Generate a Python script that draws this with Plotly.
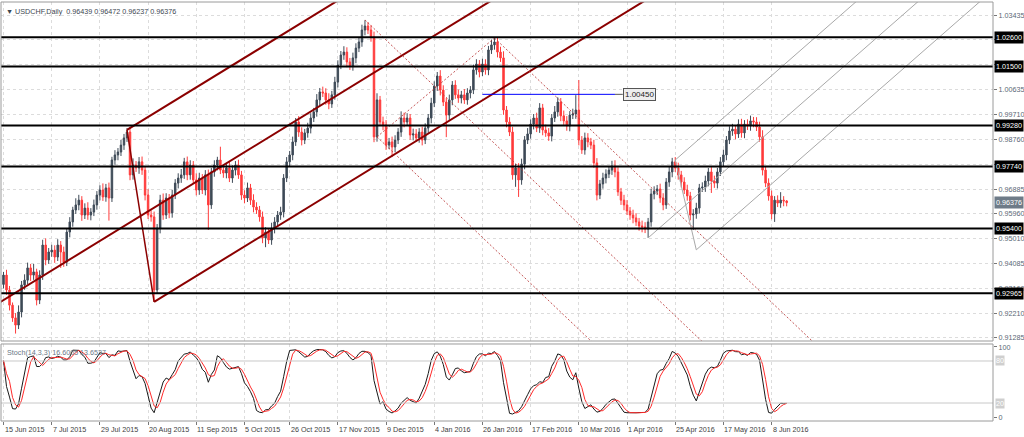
import numpy as np
import pandas as pd
import plotly.graph_objects as go

# ---------------- data ----------------
closes = [
    0.9365, 0.9309, 0.9252, 0.9204, 0.9177, 0.9226, 0.9328, 0.9346, 0.9392, 0.9365, 0.9377, 0.9271, 0.9365, 0.9478, 0.9422, 0.9452, 0.9459, 0.9433, 0.9478, 0.9452,
    0.9414, 0.9527, 0.9565, 0.9610, 0.9629, 0.9647, 0.9591, 0.9617, 0.9591, 0.9602, 0.9629, 0.9666, 0.9685, 0.9659, 0.9693, 0.9655, 0.9798, 0.9817, 0.9828, 0.9854,
    0.9881, 0.9903, 0.9742, 0.9779, 0.9768, 0.9791, 0.9760, 0.9666, 0.9591, 0.9584, 0.9309, 0.9542, 0.9647, 0.9591, 0.9655, 0.9599, 0.9666, 0.9711, 0.9730, 0.9742,
    0.9791, 0.9742, 0.9779, 0.9723, 0.9685, 0.9730, 0.9685, 0.9742, 0.9629, 0.9753, 0.9779, 0.9798, 0.9760, 0.9749, 0.9768, 0.9730, 0.9760, 0.9779, 0.9742, 0.9666,
    0.9655, 0.9693, 0.9647, 0.9621, 0.9610, 0.9584, 0.9505, 0.9527, 0.9497, 0.9542, 0.9565, 0.9591, 0.9602, 0.9730, 0.9791, 0.9817, 0.9866, 0.9941, 0.9903, 0.9873,
    0.9900, 0.9918, 0.9956, 0.9979, 1.0024, 1.0054, 1.0050, 1.0024, 1.0009, 1.0043, 1.0091, 1.0155, 1.0193, 1.0204, 1.0167, 1.0152, 1.0182, 1.0219, 1.0242, 1.0287,
    1.0302, 1.0287, 1.0261, 0.9885, 1.0024, 0.9941, 0.9930, 0.9854, 0.9866, 0.9847, 0.9873, 0.9903, 0.9956, 0.9941, 0.9956, 0.9892, 0.9896, 0.9881, 0.9903, 0.9873,
    0.9918, 0.9956, 1.0012, 1.0076, 1.0114, 1.0061, 1.0016, 0.9967, 1.0024, 1.0080, 1.0043, 1.0031, 1.0043, 1.0024, 1.0050, 1.0061, 1.0137, 1.0159, 1.0129, 1.0159,
    1.0137, 1.0212, 1.0231, 1.0242, 1.0204, 1.0182, 0.9986, 0.9941, 0.9903, 0.9742, 0.9768, 0.9723, 0.9783, 0.9873, 0.9896, 0.9933, 0.9956, 0.9918, 0.9994, 0.9911,
    0.9900, 0.9888, 0.9956, 0.9979, 1.0016, 0.9964, 0.9945, 0.9926, 0.9967, 0.9971, 0.9986, 0.9873, 0.9836, 0.9881, 0.9866, 0.9854, 0.9787, 0.9666, 0.9708, 0.9730,
    0.9745, 0.9760, 0.9775, 0.9753, 0.9678, 0.9647, 0.9629, 0.9606, 0.9591, 0.9580, 0.9565, 0.9550, 0.9546, 0.9538, 0.9565, 0.9670, 0.9681, 0.9689, 0.9655, 0.9629,
    0.9715, 0.9753, 0.9791, 0.9768, 0.9742, 0.9715, 0.9685, 0.9663, 0.9591, 0.9595, 0.9617, 0.9693, 0.9696, 0.9719, 0.9753, 0.9719, 0.9711, 0.9753, 0.9791, 0.9817,
    0.9873, 0.9907, 0.9914, 0.9896, 0.9933, 0.9900, 0.9933, 0.9926, 0.9945, 0.9941, 0.9922, 0.9885, 0.9760, 0.9711, 0.9663, 0.9595, 0.9647, 0.9636, 0.9647, 0.9644,
    0.96376,
]
up_pips = [
    12, 20, 15, 10, 18, 25, 15, 22, 20, 15, 30, 12, 18, 20, 25, 15, 20, 18, 22, 15,
    20, 15, 18, 12, 25, 20, 15, 18, 22, 15, 20, 15, 18, 25, 15, 20, 12, 18, 15, 20,
    15, 15, 20, 25, 15, 18, 20, 15, 22, 18, 20, 15, 20, 25, 18, 15, 20, 15, 18, 22,
    15, 20, 18, 15, 25, 20, 15, 18, 20, 15, 18, 12, 50, 20, 15, 25, 18, 15, 20, 15,
    18, 20, 15, 22, 18, 15, 20, 18, 15, 20, 18, 15, 20, 15, 18, 15, 20, 15, 22, 18,
    15, 20, 18, 15, 22, 15, 20, 18, 25, 15, 20, 18, 15, 22, 18, 15, 20, 18, 15, 20,
    22, 15, 18, 20, 25, 15, 20, 18, 15, 20, 18, 15, 25, 20, 18, 15, 20, 18, 15, 20,
    18, 15, 20, 18, 15, 22, 18, 15, 20, 15, 18, 20, 15, 22, 18, 15, 20, 18, 15, 20,
    18, 15, 20, 15, 18, 20, 25, 15, 18, 20, 15, 18, 20, 15, 22, 18, 15, 20, 18, 15,
    20, 18, 15, 22, 18, 15, 20, 18, 15, 20, 56, 113, 15, 20, 18, 15, 20, 18, 15, 20,
    18, 15, 20, 22, 18, 15, 20, 18, 15, 20, 18, 15, 20, 18, 15, 20, 18, 15, 20, 18,
    15, 20, 15, 18, 20, 15, 18, 20, 15, 18, 20, 15, 18, 20, 15, 18, 20, 15, 18, 20,
    15, 18, 20, 15, 18, 20, 15, 18, 20, 15, 18, 20, 25, 15, 18, 20, 15, 18, 30, 15,
    3,
]
lo_pips = [
    15, 18, 20, 15, 32, 15, 20, 18, 15, 22, 18, 20, 15, 18, 20, 15, 18, 22, 15, 60,
    18, 15, 20, 18, 15, 20, 22, 15, 18, 20, 15, 18, 20, 15, 18, 85, 15, 18, 20, 15,
    18, 15, 20, 18, 15, 22, 18, 20, 15, 18, 45, 15, 20, 18, 15, 20, 18, 15, 20, 18,
    15, 20, 18, 15, 20, 18, 15, 20, 94, 15, 18, 20, 15, 18, 20, 15, 18, 20, 15, 18,
    20, 15, 18, 20, 15, 18, 20, 35, 15, 18, 20, 15, 18, 20, 15, 18, 20, 15, 18, 20,
    15, 18, 20, 15, 18, 20, 15, 18, 20, 15, 18, 20, 15, 18, 20, 15, 18, 20, 15, 18,
    20, 15, 18, 20, 18, 15, 20, 18, 15, 38, 20, 15, 18, 20, 15, 18, 20, 15, 18, 20,
    15, 18, 20, 15, 18, 20, 15, 83, 18, 20, 15, 18, 20, 15, 18, 20, 15, 18, 20, 15,
    18, 20, 15, 18, 20, 15, 18, 20, 15, 18, 45, 64, 18, 20, 15, 18, 20, 15, 18, 20,
    15, 18, 20, 15, 18, 20, 15, 18, 20, 15, 18, 20, 15, 18, 20, 15, 18, 20, 15, 18,
    20, 15, 18, 20, 15, 18, 20, 15, 18, 20, 15, 18, 20, 15, 33, 18, 20, 15, 18, 20,
    15, 18, 20, 15, 18, 20, 15, 18, 20, 56, 18, 20, 15, 18, 20, 45, 18, 20, 15, 18,
    20, 15, 18, 20, 15, 18, 20, 15, 18, 20, 15, 18, 20, 15, 18, 20, 30, 15, 18, 20,
    14,
]
first_open = 0.9330
last_bar = [0.96439, 0.96472, 0.96237, 0.96376]   # O H L C from header

holidays = ["2015-12-25", "2016-01-01"]
tick_dates = ["2015-06-15", "2015-07-07", "2015-07-29", "2015-08-20", "2015-09-11",
              "2015-10-05", "2015-10-26", "2015-11-17", "2015-12-09", "2016-01-04",
              "2016-01-26", "2016-02-17", "2016-03-10", "2016-04-01", "2016-04-25",
              "2016-05-17", "2016-06-08"]

levels = [1.02600, 1.01500, 0.99280, 0.97740, 0.95400, 0.92965]
price_ticks = [1.03435, 1.02510, 1.01560, 1.00635, 0.99710, 0.98760, 0.97810,
               0.96885, 0.95960, 0.95010, 0.94085, 0.93160, 0.92210, 0.91285]
hidden_ticks = [1.02510, 1.01560, 0.97810]   # covered by level boxes in the picture
blue_level = 1.00450
blue_span = [159, 203]

# pitchfork anchors (bar index, price)
fork_red = [(-1, 0.9264), (41, 0.9911), (50, 0.9264)]
fork_dot = [(120, 1.0325), (124, 0.9885), (163, 1.0257)]
fork_grey = [(214, 0.9505), (223, 0.9798), (230, 0.9460)]

# ---------------- build OHLC ----------------
n = len(closes)
c = np.array(closes, dtype=float)
o = np.r_[first_open, c[:-1]]
up = np.array(up_pips[:n], dtype=float) * 1e-4
lo = np.array(lo_pips[:n], dtype=float) * 1e-4
h = np.maximum(o, c) + up
l = np.minimum(o, c) - lo
o[-1], h[-1], l[-1], c[-1] = last_bar

alldays = pd.bdate_range("2015-06-15", periods=n + 10)
alldays = alldays[~alldays.isin(pd.to_datetime(holidays))]
dates = alldays[:n]
xi = np.arange(n)

tick_idx = [int(dates.get_loc(pd.Timestamp(d))) for d in tick_dates]
tick_txt = [f"{pd.Timestamp(d).day} {pd.Timestamp(d):%b %Y}" for d in tick_dates]

# stochastic (14,3,3) computed from the OHLC
cs, hs, ls = pd.Series(c), pd.Series(h), pd.Series(l)
ll14 = ls.rolling(14, min_periods=1).min()
hh14 = hs.rolling(14, min_periods=1).max()
k = 100 * (cs - ll14).rolling(3, min_periods=1).sum() / (hh14 - ll14).rolling(3, min_periods=1).sum()
dline = k.rolling(3, min_periods=1).mean()

# ---------------- figure ----------------
fig = go.Figure()
fig.add_trace(go.Candlestick(
    x=xi, open=o, high=h, low=l, close=c, xaxis="x", yaxis="y",
    increasing=dict(line=dict(color="#3e4a57", width=1), fillcolor="#3e4a57"),
    decreasing=dict(line=dict(color="#ff3b3b", width=1), fillcolor="#ff3b3b"),
    whiskerwidth=0, hoverinfo="skip"))

X_END = 340


def fork(p0, p1, p2):
    (x0, y0), (x1, y1), (x2, y2) = p0, p1, p2
    mx, my = (x1 + x2) / 2, (y1 + y2) / 2
    kk = (my - y0) / (mx - x0)
    med = ([x0, X_END], [y0, y0 + kk * (X_END - x0)])
    upl = ([x1, X_END], [y1, y1 + kk * (X_END - x1)])
    lol = ([x2, X_END], [y2, y2 + kk * (X_END - x2)])
    hand = ([x1, x2], [y1, y2])
    return med, upl, lol, hand


def add_line(xy, color, width, dash="solid"):
    fig.add_trace(go.Scatter(x=xy[0], y=xy[1], mode="lines", xaxis="x", yaxis="y",
                             line=dict(color=color, width=width, dash=dash),
                             hoverinfo="skip", showlegend=False))


med, upl, lol, hand = fork(*fork_red)
for seg in (med, upl, lol):
    add_line(seg, "#8b0000", 2)
add_line(hand, "#8b0000", 1.5)

for seg in fork(*fork_dot):
    add_line(seg, "rgba(185,55,55,0.85)", 1, "2px,2px")

for seg in fork(*fork_grey):
    add_line(seg, "#a8a8a8", 1)

add_line((blue_span, [blue_level, blue_level]), "#0000ff", 1)
add_line(([blue_span[1], blue_span[1] + 2.6], [blue_level, blue_level]), "#555555", 1)

# stochastic
fig.add_trace(go.Scatter(x=xi, y=k, mode="lines", xaxis="x", yaxis="y2",
                         line=dict(color="#1a1a1a", width=1), hoverinfo="skip"))
fig.add_trace(go.Scatter(x=xi, y=dline, mode="lines", xaxis="x", yaxis="y2",
                         line=dict(color="#ff2a2a", width=1), hoverinfo="skip"))

FONT = "Liberation Sans"
FS = 7.2
main_dom = [0.1909, 1.0]
sto_dom = [0.0, 0.1838]

fig.update_layout(
    width=1024, height=437,
    margin=dict(l=1, r=31, t=2, b=16, autoexpand=False),
    paper_bgcolor="white", plot_bgcolor="white", showlegend=False,
    font=dict(family=FONT, size=FS, color="#4a4a4a"),
    xaxis=dict(domain=[0, 1], anchor="y2", range=[-0.83, 328.5],
               tickvals=tick_idx, ticktext=tick_txt, ticks="outside", ticklen=3,
               tickcolor="#777", showticklabels=False,
               showgrid=True, gridcolor="#dcdcdc", griddash="dot", gridwidth=1,
               zeroline=False, rangeslider=dict(visible=False), showline=False),
    yaxis=dict(domain=main_dom, range=[0.91170, 1.03924], side="right",
               tickvals=price_ticks,
               ticktext=["" if v in hidden_ticks else f"{v:.5f}" for v in price_ticks],
               ticks="outside", ticklen=3, tickcolor="#777",
               tickfont=dict(size=FS, color="#5a6775"),
               showgrid=True, gridcolor="#dcdcdc", griddash="dot",
               zeroline=False, showline=False),
    yaxis2=dict(domain=sto_dom, range=[-5.7, 104.3], side="right",
                tickvals=[0, 100], ticktext=["0", "100"], ticks="outside", ticklen=3,
                tickcolor="#777", tickfont=dict(size=FS, color="#5a6775"),
                showgrid=False, zeroline=False, showline=False),
)

shapes = []
for lv in levels:
    shapes.append(dict(type="line", xref="x domain", yref="y", x0=0, x1=1, y0=lv, y1=lv,
                       line=dict(color="black", width=2)))
for lv in (20, 80):
    shapes.append(dict(type="line", xref="x domain", yref="y2", x0=0, x1=1, y0=lv, y1=lv,
                       line=dict(color="#c8c8c8", width=1)))
for dom in (main_dom, sto_dom):
    shapes.append(dict(type="rect", xref="paper", yref="paper", x0=0, x1=1,
                       y0=dom[0], y1=dom[1], line=dict(color="#9a9a9a", width=1),
                       fillcolor="rgba(0,0,0,0)"))
fig.update_layout(shapes=shapes)

ann = []
ann.append(dict(xref="paper", yref="paper", x=0, y=1, xshift=3, yshift=-3,
                xanchor="left", yanchor="top", showarrow=False,
                text="\u25BC USDCHF,Daily  0.96439 0.96472 0.96237 0.96376",
                font=dict(family=FONT, size=FS, color="#3c4650")))
for ti, tt in zip(tick_idx, tick_txt):
    ann.append(dict(xref="x", yref="paper", x=ti, y=0, xanchor="left", yanchor="top",
                    xshift=-1, yshift=-2, showarrow=False, text=tt,
                    font=dict(family=FONT, size=FS, color="#404040")))
for lv in levels:
    ann.append(dict(xref="paper", yref="y", x=1, y=lv, xanchor="left", yanchor="middle",
                    xshift=1, showarrow=False, text=f"{lv:.5f}", bgcolor="black",
                    borderpad=1, font=dict(family=FONT, size=FS, color="white")))
ann.append(dict(xref="paper", yref="y", x=1, y=last_bar[3], xanchor="left", yanchor="middle",
                xshift=1, showarrow=False, text=f"{last_bar[3]:.5f}", bgcolor="#6e7b88",
                borderpad=1, font=dict(family=FONT, size=FS, color="white")))
ann.append(dict(xref="x", yref="y", x=blue_span[1] + 2.6, y=blue_level, xanchor="left",
                yanchor="middle", showarrow=False, text=f"{blue_level:.5f}",
                bgcolor="#eeeeee", bordercolor="#555555", borderwidth=1, borderpad=1,
                font=dict(family=FONT, size=8, color="#222222")))
ann.append(dict(xref="paper", yref="paper", x=0, y=sto_dom[1], xshift=4, yshift=-2,
                xanchor="left", yanchor="top", showarrow=False,
                text="Stoch(14,3,3) 16.6005 13.6537",
                font=dict(family=FONT, size=FS, color="#6a7785")))
for lv in (80, 20):
    ann.append(dict(xref="paper", yref="y2", x=1, y=lv, xanchor="left", yanchor="middle",
                    xshift=2, showarrow=False, text=str(lv), bgcolor="#cfcfcf",
                    borderpad=0, font=dict(family=FONT, size=FS, color="white")))
fig.update_layout(annotations=ann)

fig.write_html("out.html", config={"displayModeBar": False})

# remove the default page margin so the figure sits at the window's top-left corner
with open("out.html", "r", encoding="utf-8") as f:
    page = f.read()
page = page.replace("<head>", "<head><style>html,body{margin:0;padding:0;overflow:hidden;}</style>", 1)
with open("out.html", "w", encoding="utf-8") as f:
    f.write(page)
